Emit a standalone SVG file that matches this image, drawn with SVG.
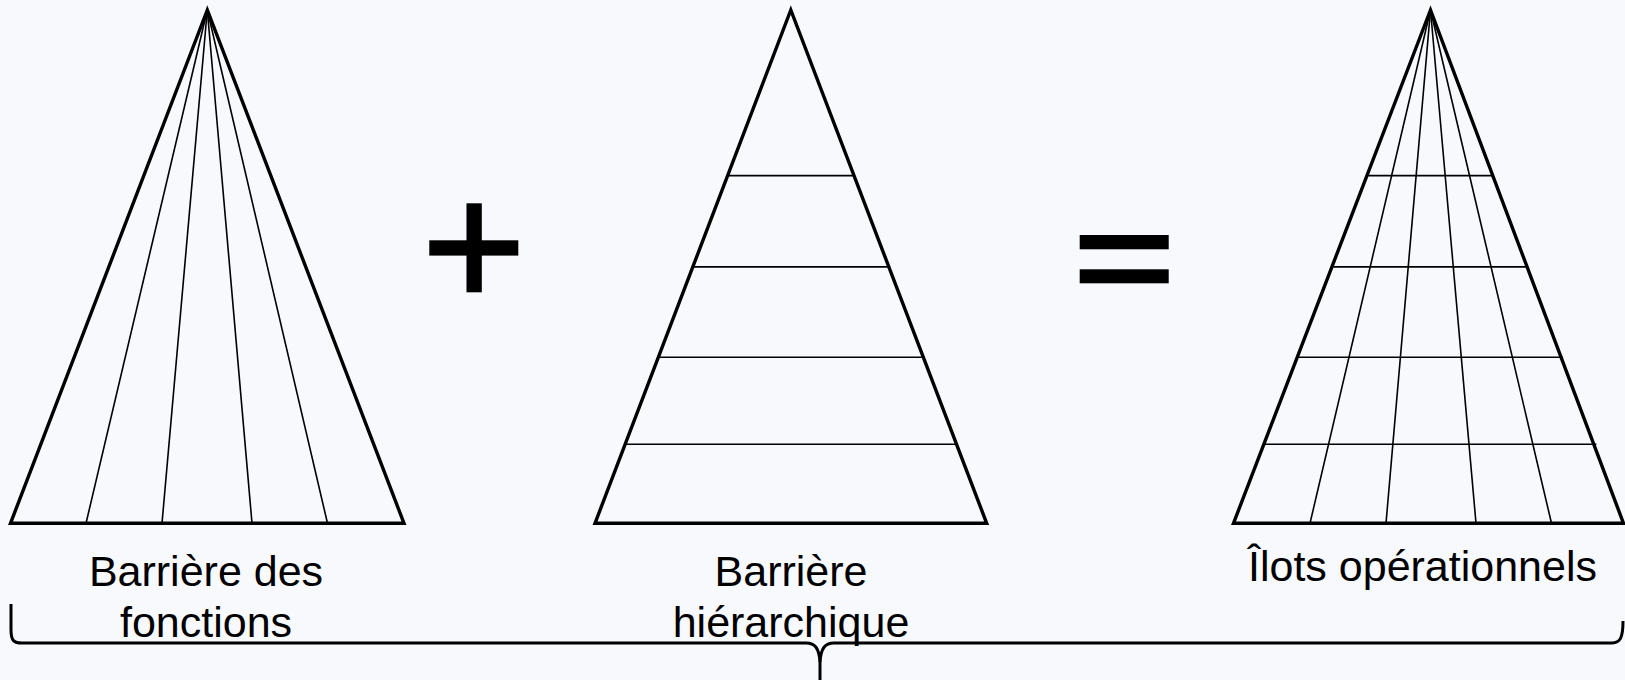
<svg xmlns="http://www.w3.org/2000/svg" width="1625" height="680" viewBox="0 0 1625 680">
<style>
.outer{fill:none;stroke:#000;stroke-width:3.4;stroke-linejoin:miter}
.inner{fill:none;stroke:#000;stroke-width:1.6}
.lbl{font-family:"Liberation Sans",Arial,sans-serif;font-size:43px;fill:#000;text-anchor:middle}
.op{fill:#000}
.brace{fill:none;stroke:#000;stroke-width:3}
</style>
<rect width="1625" height="680" fill="#f7f9fd"/>
<g id="pyramide-fonctions">
<line class="inner" x1="207.3" y1="10" x2="86" y2="523.3"/>
<line class="inner" x1="207.3" y1="10" x2="162" y2="523.3"/>
<line class="inner" x1="207.3" y1="10" x2="252" y2="523.3"/>
<line class="inner" x1="207.3" y1="10" x2="327.5" y2="523.3"/>
<polygon class="outer" points="207.3,10 10.5,523.3 404,523.3"/>
</g>
<g id="plus">
<rect class="op" x="466.5" y="203.3" width="15.3" height="89"/>
<rect class="op" x="429.3" y="240.3" width="89" height="15.3"/>
</g>
<g id="pyramide-hierarchique">
<line class="inner" x1="728.4" y1="175.6" x2="853.2" y2="175.6"/>
<line class="inner" x1="693.5" y1="266.9" x2="888.1" y2="266.9"/>
<line class="inner" x1="658.4" y1="357.2" x2="923.2" y2="357.2"/>
<line class="inner" x1="625.0" y1="444.3" x2="956.6" y2="444.3"/>
<polygon class="outer" points="790.8,10 595,523.3 986.7,523.3"/>
</g>
<g id="egal">
<rect class="op" x="1079.7" y="235" width="89" height="14.3"/>
<rect class="op" x="1079.7" y="269.3" width="89" height="14"/>
</g>
<g id="pyramide-ilots">
<line class="inner" x1="1430.5" y1="10" x2="1310" y2="523.3"/>
<line class="inner" x1="1430.5" y1="10" x2="1386" y2="523.3"/>
<line class="inner" x1="1430.5" y1="10" x2="1476" y2="523.3"/>
<line class="inner" x1="1430.5" y1="10" x2="1551.5" y2="523.3"/>
<line class="inner" x1="1368.2" y1="175.6" x2="1493.0" y2="175.6"/>
<line class="inner" x1="1333.3" y1="266.9" x2="1527.9" y2="266.9"/>
<line class="inner" x1="1298.2" y1="357.2" x2="1563.0" y2="357.2"/>
<line class="inner" x1="1264.8" y1="444.3" x2="1596.4" y2="444.3"/>
<polygon class="outer" points="1430.5,10 1233.5,523.3 1623.5,523.3"/>
</g>
<g id="labels">
<text class="lbl" x="206" y="586">Barrière des</text>
<text class="lbl" x="206" y="637">fonctions</text>
<text class="lbl" x="791" y="586">Barrière</text>
<text class="lbl" x="791" y="637">hiérarchique</text>
<text class="lbl" x="1422.5" y="581">Îlots opérationnels</text>
</g>
<g id="connectors">
<path class="brace" d="M 11 604 L 11 630 C 11 641 14 643 22 643 L 806 643 C 815 643 819 648 820 662 L 820 680"/>
<path class="brace" d="M 820 662 C 821 648 825 643 834 643 L 1612 643 C 1620 643 1623 638 1623 621"/>
</g>
</svg>
